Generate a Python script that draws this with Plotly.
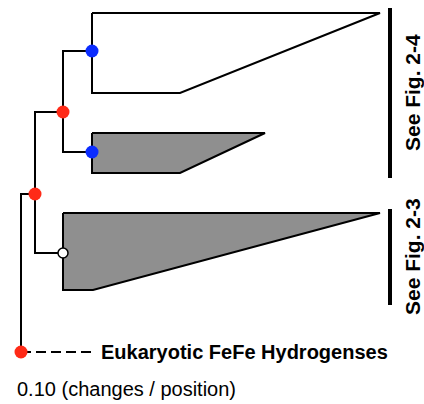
import plotly.graph_objects as go

# ---- data: internal nodes of the tree (x = path length from root, y = row position)
node_names = ["root", "A", "B", "C", "D", "E"]
node_x = [21, 35, 63, 63, 92, 92]
node_y = [352, 194, 112, 253, 51, 152]
node_parent = [None, "root", "A", "A", "B", "B"]
node_kind = ["red", "red", "red", "open", "blue", "blue"]

# ---- data: collapsed clades (triangles)
clade_node = ["D", "E", "C"]
clade_top = [13, 133, 213]
clade_bottom = [93, 173, 290]
clade_tip = [380, 265, 380]
clade_short = [180, 180, 93]
clade_shaded = [False, True, True]

# ---- data: outgroup
outgroup_label = "Eukaryotic FeFe Hydrogenses"
outgroup_x = 92

# ---- data: brackets
bracket_labels = ["See Fig. 2-4", "See Fig. 2-3"]
bracket_top = [8, 209]
bracket_bottom = [178, 305]

scale_label = "0.10 (changes / position)"

W, H = 424, 404
BLACK = "#000000"
FONT = "Liberation Sans, Arial, Helvetica"
kind_color = {"red": "#ff2a17", "blue": "#0b2cff", "open": "#ffffff"}

fig = go.Figure()
idx = {n: i for i, n in enumerate(node_names)}

# clades
for n, t, b, tip, sh, shaded in zip(clade_node, clade_top, clade_bottom,
                                     clade_tip, clade_short, clade_shaded):
    x0 = node_x[idx[n]]
    fig.add_trace(go.Scatter(
        x=[x0, tip, sh, x0, x0], y=[t, t, b, b, t], mode="lines",
        fill="toself", fillcolor="#8f8f8f" if shaded else "#ffffff",
        line=dict(color=BLACK, width=2), hoverinfo="skip", showlegend=False))

# edges
for n, p in zip(node_names, node_parent):
    if p is None:
        continue
    i, j = idx[n], idx[p]
    fig.add_trace(go.Scatter(
        x=[node_x[j], node_x[j], node_x[i]], y=[node_y[j], node_y[i], node_y[i]],
        mode="lines", line=dict(color=BLACK, width=2),
        hoverinfo="skip", showlegend=False))

# outgroup dashed branch
r = idx["root"]
fig.add_trace(go.Scatter(
    x=[node_x[r], outgroup_x], y=[node_y[r], node_y[r]], mode="lines",
    line=dict(color=BLACK, width=2, dash="10px,5px"),
    hoverinfo="skip", showlegend=False))

# node markers
for n, k in zip(node_names, node_kind):
    i = idx[n]
    fig.add_trace(go.Scatter(
        x=[node_x[i]], y=[node_y[i]], mode="markers",
        marker=dict(size=10 if k == "open" else 13, color=kind_color[k],
                    line=dict(color=BLACK if k == "open" else kind_color[k],
                              width=1.5 if k == "open" else 0)),
        hoverinfo="skip", showlegend=False))

# brackets
for lab, t, b in zip(bracket_labels, bracket_top, bracket_bottom):
    fig.add_trace(go.Scatter(
        x=[390, 390], y=[t, b], mode="lines", line=dict(color=BLACK, width=4),
        hoverinfo="skip", showlegend=False))
    fig.add_annotation(x=412, y=(t + b) / 2, text="<b>%s</b>" % lab,
                       showarrow=False, textangle=-90, xanchor="center",
                       yanchor="middle",
                       font=dict(family=FONT, size=21, color=BLACK))

fig.add_annotation(x=99, y=node_y[r], text="<b>%s</b>" % outgroup_label,
                   showarrow=False, xanchor="left", yanchor="middle",
                   font=dict(family=FONT, size=20, color=BLACK))
fig.add_annotation(x=15, y=389, text=scale_label, showarrow=False,
                   xanchor="left", yanchor="middle",
                   font=dict(family=FONT, size=20, color=BLACK))

fig.update_layout(
    width=W, height=H, margin=dict(l=0, r=0, t=0, b=0),
    paper_bgcolor="white", plot_bgcolor="white",
    xaxis=dict(range=[0, W], visible=False, fixedrange=True),
    yaxis=dict(range=[H, 0], visible=False, fixedrange=True),
)
fig.write_html("out.html", config={"displayModeBar": False},
               post_script="document.body.style.margin='0px';"
                           "document.body.style.overflow='hidden';")
